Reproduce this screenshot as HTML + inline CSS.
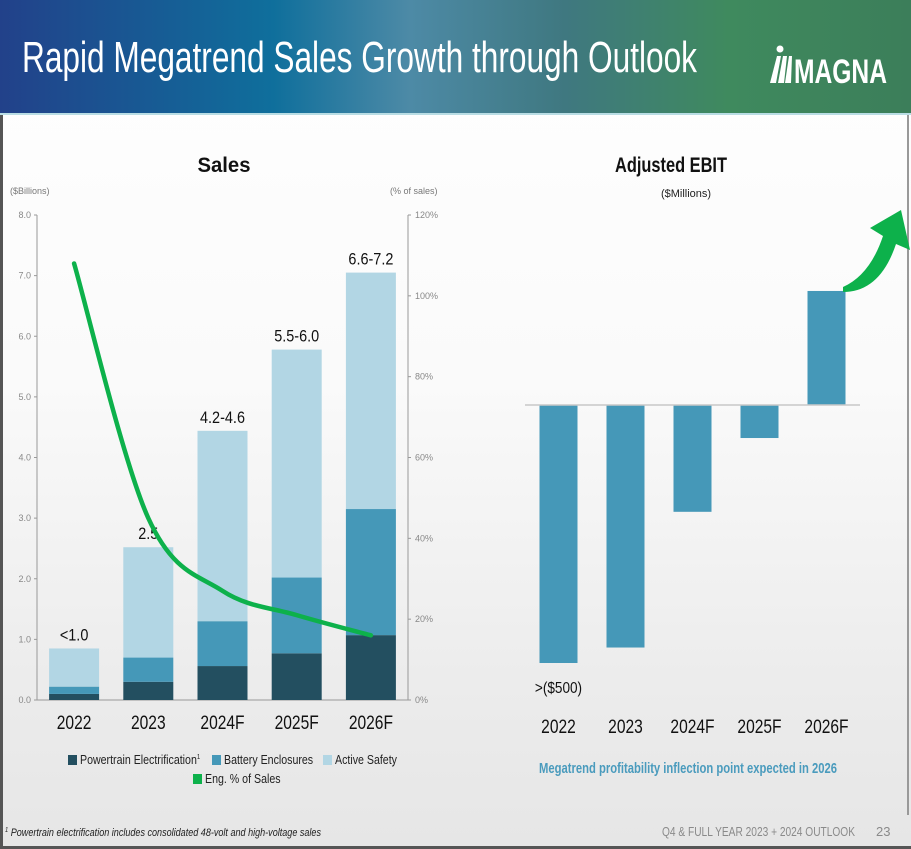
<!DOCTYPE html>
<html><head><meta charset="utf-8"><style>
html,body{margin:0;padding:0;width:911px;height:849px;overflow:hidden;font-family:"Liberation Sans",sans-serif}
svg{display:block}
</style></head><body>
<svg width="911" height="849" viewBox="0 0 911 849" xmlns="http://www.w3.org/2000/svg">
<defs>
<linearGradient id="hdr" x1="0" y1="0" x2="1" y2="0">
<stop offset="0" stop-color="#22418a"/><stop offset="0.3" stop-color="#0f6f9c"/><stop offset="0.45" stop-color="#4d8aa6"/><stop offset="0.62" stop-color="#3f7880"/><stop offset="0.8" stop-color="#3f8a5e"/><stop offset="1" stop-color="#3c7e5a"/>
</linearGradient>
<linearGradient id="bg" x1="0" y1="0" x2="0" y2="1">
<stop offset="0" stop-color="#ffffff"/><stop offset="0.45" stop-color="#fafafa"/><stop offset="0.8" stop-color="#ececec"/><stop offset="1" stop-color="#e6e6e6"/>
</linearGradient>
</defs>
<rect x="0" y="0" width="911" height="849" fill="url(#bg)"/>
<rect x="0" y="0" width="911" height="113" fill="url(#hdr)"/>
<rect x="0" y="113" width="911" height="2" fill="#b9dde4"/>
<text x="22" y="72" font-size="44" fill="#fff" textLength="675" lengthAdjust="spacingAndGlyphs">Rapid Megatrend Sales Growth through Outlook</text>
<g fill="#fff">
<circle cx="780" cy="49" r="3.5"/>
<polygon points="770,83 777,56 781,56 776,83"/>
<polygon points="778,83 783,56 787,56 784,83"/>
<polygon points="785,83 789,56 792,56 791,83"/>
<text x="794" y="83" font-size="34" font-weight="bold" textLength="93" lengthAdjust="spacingAndGlyphs">MAGNA</text>
</g>
<rect x="0" y="115" width="3" height="734" fill="#555"/>
<rect x="907" y="115" width="2" height="700" fill="#999"/>
<rect x="0" y="846" width="911" height="3" fill="#555"/>

<g id="sales"></g>
<g id="ebit"></g>

<text x="5" y="836" font-size="11" font-style="italic" fill="#222" textLength="316" lengthAdjust="spacingAndGlyphs"><tspan font-size="7" dy="-4">1</tspan><tspan dy="4"> Powertrain electrification includes consolidated 48-volt and high-voltage sales</tspan></text>
<text x="662" y="836" font-size="13" fill="#8a8a8a" textLength="193" lengthAdjust="spacingAndGlyphs">Q4 &amp; FULL YEAR 2023 + 2024 OUTLOOK</text>
<text x="876" y="836" font-size="13" fill="#8a8a8a">23</text>
</svg>
<script>
const NS='http://www.w3.org/2000/svg';
function mk(parent,tag,attrs,txt){const e=document.createElementNS(NS,tag);for(const k in attrs)e.setAttribute(k,attrs[k]);if(txt!=null)e.textContent=txt;parent.appendChild(e);return e;}

// ---- Sales data ----
const categories=['2022','2023','2024F','2025F','2026F'];
const powertrain=[0.1,0.3,0.56,0.77,1.07];
const battery=[0.12,0.4,0.74,1.25,2.08];
const activeSafety=[0.63,1.82,3.14,3.76,3.9];
const totalLabels=['<1.0','2.5','4.2-4.6','5.5-6.0','6.6-7.2'];
const engPct=[108,45,27,21,16];
const leftTicks=['0.0','1.0','2.0','3.0','4.0','5.0','6.0','7.0','8.0'];
const rightTicks=['0%','20%','40%','60%','80%','100%','120%'];
// ---- EBIT data ----
const ebitValues=[-500,-470,-207,-64,221];
const ebitLabels=['>($500)','','','',''];

const S=document.getElementById('sales');
const y0=700,yTop=215,xL=37,xR=408;
const yS=v=>y0-(v/8)*(y0-yTop);
const yP=p=>y0-(p/120)*(y0-yTop);
const band=(xR-xL)/categories.length;
const xC=i=>xL+band*(i+0.5);
const bw=50;

let t=mk(S,'text',{x:224,y:172,'font-size':21,'font-weight':'bold','text-anchor':'middle',fill:'#111',textLength:53,lengthAdjust:'spacingAndGlyphs'},'Sales');


t=mk(S,'text',{x:10,y:194,'font-size':9,fill:'#777'},'($Billions)');


t=mk(S,'text',{x:390,y:194,'font-size':9,fill:'#777'},'(% of sales)');


let l=mk(S,'line',{x1:xL,y1:yTop,x2:xL,y2:y0,stroke:'#999','stroke-width':1});


l=mk(S,'line',{x1:xR,y1:yTop,x2:xR,y2:y0,stroke:'#999','stroke-width':1});


l=mk(S,'line',{x1:xL,y1:y0,x2:xR,y2:y0,stroke:'#999','stroke-width':1});


leftTicks.forEach((s,i)=>{const v=parseFloat(s);
 const tk=mk(S,'line',{x1:xL-3,y1:yS(v),x2:xL,y2:yS(v),stroke:'#999'});
 
 
 const tx=mk(S,'text',{x:xL-6,y:yS(v)+3,'font-size':9,fill:'#888','text-anchor':'end'},s);
 
 });
rightTicks.forEach((s,i)=>{const v=parseFloat(s);
 const tk=mk(S,'line',{x1:xR,y1:yP(v),x2:xR+3,y2:yP(v),stroke:'#999'});
 
 
 const tx=mk(S,'text',{x:xR+7,y:yP(v)+3,'font-size':9,fill:'#888'},s);
 
 });
categories.forEach((c,i)=>{
 const x=xC(i)-bw/2;let base=0;
 [[powertrain,'#234f60','powertrain'],[battery,'#4598b8','battery'],[activeSafety,'#b2d6e4','active-safety']].forEach(([arr,col,nm])=>{
  const r=mk(S,'rect',{x:x,y:yS(base+arr[i]),width:bw,height:yS(base)-yS(base+arr[i]),fill:col});
  
  
  base+=arr[i];});
 const lb=mk(S,'text',{x:xC(i),y:yS(base)-8,'font-size':17,'text-anchor':'middle',fill:'#111',transform:`translate(${xC(i)} 0) scale(0.85 1) translate(${-xC(i)} 0)`},totalLabels[i]);
 
 
 const cx=mk(S,'text',{x:xC(i),y:729,'font-size':19,'text-anchor':'middle',fill:'#111',transform:`translate(${xC(i)} 0) scale(0.82 1) translate(${-xC(i)} 0)`},c);
 
 
});
// smooth line (catmull-rom)
const pts=engPct.map((p,i)=>[xC(i),yP(p)]);
let d=`M${pts[0][0]},${pts[0][1]}`;
for(let i=0;i<pts.length-1;i++){const p0=pts[Math.max(0,i-1)],p1=pts[i],p2=pts[i+1],p3=pts[Math.min(pts.length-1,i+2)];
 const c1=[p1[0]+(p2[0]-p0[0])/6,p1[1]+(p2[1]-p0[1])/6],c2=[p2[0]-(p3[0]-p1[0])/6,p2[1]-(p3[1]-p1[1])/6];
 d+=` C${c1[0]},${c1[1]} ${c2[0]},${c2[1]} ${p2[0]},${p2[1]}`;}
const ln=mk(S,'path',{d:d,fill:'none',stroke:'#0db14b','stroke-width':4.5,'stroke-linecap':'round'});


// legend
const leg=[[68,'#234f60','Powertrain Electrification',764],[212,'#4598b8','Battery Enclosures',764],[323,'#b2d6e4','Active Safety',764],[193,'#0db14b','Eng. % of Sales',783]];
leg.forEach(([x,col,txt,y],i)=>{
 const g=mk(S,'g',{});
 
 
 mk(g,'rect',{x:x,y:y-9,width:9,height:10,fill:col});
 const te=mk(g,'text',{x:x+12,y:y,'font-size':12.5,fill:'#222',transform:`translate(${x+12} 0) scale(0.85 1) translate(${-(x+12)} 0)`},txt);
 if(i===0){mk(te,'tspan',{'font-size':7,dy:-5},'1');}
});

// ---- EBIT chart ----
const E=document.getElementById('ebit');
const z0=405,yE=v=>z0-v*(258/500);
const eL=525,eR=860,eBand=(eR-eL)/categories.length,eC=i=>eL+eBand*(i+0.5),ebw=38;
t=mk(E,'text',{x:671,y:172,'font-size':21,'font-weight':'bold','text-anchor':'middle',fill:'#111',textLength:112,lengthAdjust:'spacingAndGlyphs'},'Adjusted EBIT');


t=mk(E,'text',{x:686,y:197,'font-size':11,'text-anchor':'middle',fill:'#222'},'($Millions)');


categories.forEach((c,i)=>{
 const v=ebitValues[i];
 const r=mk(E,'rect',{x:eC(i)-ebw/2,y:Math.min(yE(v),z0),width:ebw,height:Math.abs(yE(v)-z0),fill:'#4598b8'});
 
 
 const cx=mk(E,'text',{x:eC(i),y:733,'font-size':19,'text-anchor':'middle',fill:'#111',transform:`translate(${eC(i)} 0) scale(0.82 1) translate(${-eC(i)} 0)`},c);
 
 
 if(ebitLabels[i]){const lb=mk(E,'text',{x:eC(i),y:yE(v)+30,'font-size':16,'text-anchor':'middle',fill:'#111',transform:`translate(${eC(i)} 0) scale(0.85 1) translate(${-eC(i)} 0)`},ebitLabels[i]);
  
  }
});
l=mk(E,'line',{x1:eL,y1:z0,x2:eR,y2:z0,stroke:'#c8c8c8','stroke-width':1.5});


const ar=mk(E,'path',{d:'M843,292 Q880,292 896,244 L910,250 L901,210 L870,228 L883,236 Q870,275 843,287 Z',fill:'#0db14b'});


t=mk(E,'text',{x:688,y:773,'font-size':15,'font-weight':'bold','text-anchor':'middle',fill:'#4a9bbd',textLength:298,lengthAdjust:'spacingAndGlyphs'},'Megatrend profitability inflection point expected in 2026');


</script>
</body></html>
